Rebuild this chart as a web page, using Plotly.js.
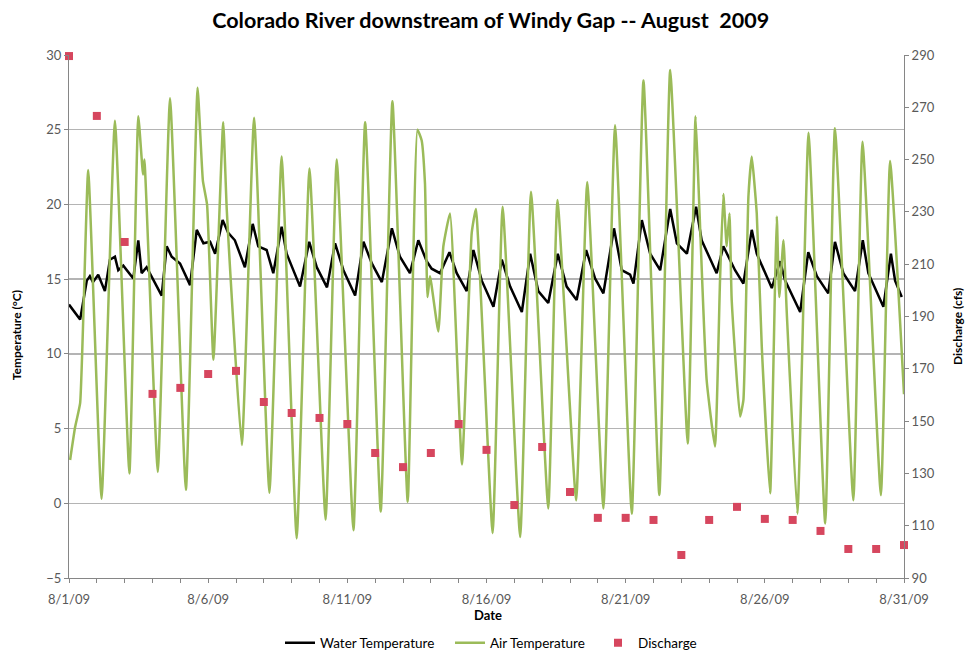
<!DOCTYPE html>
<html>
<head>
<meta charset="utf-8">
<script src="https://cdn.plot.ly/plotly-3.0.1.min.js"></script>
<style>html,body{margin:0;padding:0;background:#fff;}#chart{width:968px;height:651px;}</style>
</head>
<body>
<div id="chart"></div>
<script>
// Day-of-August positions (1.00 = 8/1/09 00:00)
const airDays = [1.04,1.22,1.40,1.69,2.17,2.65,3.17,3.49,3.66,3.71,4.19,4.63,5.20,5.62,5.81,5.96,6.19,6.54,6.67,7.21,7.65,8.20,8.64,9.18,9.64,10.22,10.62,11.22,11.64,12.20,12.62,13.17,13.52,13.67,13.79,13.88,13.97,14.27,14.45,14.69,15.12,15.47,15.62,16.22,16.58,17.21,17.60,18.22,18.55,19.22,19.62,20.20,20.62,21.22,21.64,22.21,22.60,23.23,23.51,23.61,23.91,24.21,24.39,24.51,24.63,24.73,24.81,25.11,25.23,25.41,25.53,25.71,25.89,26.19,26.37,26.43,26.52,26.67,26.79,27.17,27.57,28.17,28.52,29.18,29.51,30.17,30.50,31.00];
const airTemps = [2.9,5.1,6.7,22.3,0.3,25.6,2.0,25.9,22.0,23.0,2.1,27.1,0.9,27.8,21.6,20.0,9.6,25.5,19.6,3.9,25.8,0.7,23.2,-2.35,22.4,-1.1,23.0,-1.8,25.5,-0.55,26.9,0.1,25.0,24.3,21.4,13.8,15.2,11.5,17.2,19.4,2.6,18.1,19.7,-2.0,19.85,-2.25,20.85,-0.35,20.3,0.2,21.5,-0.35,25.3,-0.7,28.3,0.55,29.0,4.0,25.9,21.6,8.25,3.8,14.9,20.7,17.2,19.4,13.6,5.8,6.9,20.5,23.2,19.4,10.5,0.67,14.9,19.2,13.8,17.6,12.7,-0.7,24.8,-1.35,25.1,0.2,24.2,0.55,22.9,7.3];

const waterDays = [1.00,1.40,1.64,1.75,1.86,2.05,2.29,2.47,2.65,2.77,2.95,3.31,3.49,3.61,3.79,4.33,4.51,4.69,4.99,5.35,5.59,5.83,6.07,6.25,6.52,6.72,6.96,7.32,7.60,7.80,8.10,8.34,8.64,8.82,9.30,9.63,9.90,10.27,10.56,10.86,11.28,11.58,11.88,12.24,12.60,12.89,13.25,13.55,13.85,14.03,14.33,14.67,14.93,15.29,15.53,15.83,16.25,16.55,16.85,17.27,17.57,17.86,18.22,18.56,18.88,19.24,19.58,19.90,20.20,20.58,20.86,21.16,21.28,21.58,21.88,22.24,22.60,22.84,23.20,23.53,23.73,24.27,24.51,24.93,25.23,25.53,25.71,26.25,26.55,26.73,27.27,27.56,27.87,28.28,28.52,28.82,29.24,29.52,29.72,30.26,30.53,30.68,30.92];
const waterTemps = [13.3,12.3,14.9,15.2,14.8,15.3,14.2,16.3,16.5,15.6,15.9,15.05,17.6,15.4,15.8,13.9,17.2,16.5,16.05,14.6,18.3,17.4,17.5,16.7,18.95,18.1,17.6,15.8,18.7,17.2,16.95,15.4,18.5,16.7,14.5,17.5,15.8,14.45,17.4,15.6,13.9,17.5,16.05,14.8,18.4,16.5,15.4,17.6,16.2,15.7,15.4,16.8,15.4,14.2,16.95,14.9,13.15,16.3,14.5,12.8,16.7,14.2,13.4,16.7,14.5,13.6,16.95,15.05,14.05,18.4,15.6,15.3,14.7,18.95,16.7,15.6,19.7,17.4,16.7,19.85,17.6,15.4,17.2,15.6,14.7,18.3,16.7,14.4,16.2,14.9,12.8,16.8,15.2,14.05,17.5,15.4,14.2,17.6,15.4,13.15,16.7,14.9,13.8];

const dischargeDays = [1,2,3,4,5,6,7,8,9,10,11,12,13,14,15,16,17,18,19,20,21,22,23,24,25,26,27,28,29,30,31];
const dischargeCfs = [289.6,266.7,218.5,160.4,162.7,168,169.2,157.3,153.1,151.2,148.9,137.8,132.4,137.8,148.9,139,117.9,140.1,122.9,113,113,112.2,98.8,112.2,117.2,112.6,112.2,108,101.1,101.1,102.6];

const tickDays = [1,6,11,16,21,26,31];

function dayToDate(d){
  const dt = new Date(Date.UTC(2009,7,1) + (d-1)*86400000);
  return dt.toISOString().slice(0,16).replace('T',' ');
}

const font = "Lato, 'Open Sans', sans-serif";
const gray = '#595959';
const axisGray = '#868686';

const traces = [
  {x: waterDays.map(dayToDate), y: waterTemps, name: 'Water Temperature', type: 'scatter', mode: 'lines',
   line: {color: '#000000', width: 2.5}, yaxis: 'y', legend: 'legend'},
  {x: airDays.map(dayToDate), y: airTemps, name: 'Air Temperature', type: 'scatter', mode: 'lines',
   line: {color: '#9BBB59', width: 2.5, shape: 'spline', smoothing: 0.4}, yaxis: 'y', legend: 'legend2'},
  {x: dischargeDays.map(dayToDate), y: dischargeCfs, name: 'Discharge', type: 'scatter', mode: 'markers',
   marker: {color: '#D6465E', symbol: 'square', size: 8}, yaxis: 'y2', cliponaxis: false, legend: 'legend3'}
];

function legendAt(px){
  return {orientation: 'h', xref: 'paper', x: (px - 69) / 835, xanchor: 'left', yref: 'container', y: 0.0123, yanchor: 'middle',
          font: {family: font, size: 13.5, color: '#000'}, itemwidth: 30, bgcolor: 'rgba(0,0,0,0)'};
}

const layout = {
  width: 968, height: 651,
  margin: {l: 69, r: 64, t: 55, b: 73, autoexpand: false},
  paper_bgcolor: '#fff', plot_bgcolor: '#fff',
  font: {family: font, color: gray, size: 13},
  title: {text: '<b>Colorado River downstream of Windy Gap -- August  2009</b>', xref: 'paper', x: 0.505, xanchor: 'center',
          yref: 'container', y: 0.969, yanchor: 'middle',
          font: {family: font, size: 21.5, color: '#000'}},
  showlegend: true,
  legend: legendAt(280),
  legend2: legendAt(450),
  legend3: legendAt(598),
  xaxis: {type: 'date', range: [dayToDate(1), dayToDate(31)],
          tickvals: tickDays.map(dayToDate), tickformat: '%-m/%-d/%y',
          showgrid: false, zeroline: false, showline: true, linecolor: axisGray, linewidth: 1,
          ticks: 'outside', ticklen: 4, tickcolor: axisGray, ticklabelstandoff: 5,
          minor: {dtick: 86400000, ticks: 'outside', ticklen: 4, tickcolor: axisGray, showgrid: false},
          tickfont: {size: 13, color: gray, family: font}},
  yaxis: {range: [-5, 30], dtick: 5, showgrid: true, gridcolor: '#b4b4b4', gridwidth: 1.5, zeroline: false,
          showline: true, linecolor: axisGray, ticks: 'outside', ticklen: 4, tickcolor: axisGray,
          tickfont: {size: 13, color: gray, family: font}},
  yaxis2: {range: [90, 290], tick0: 90, dtick: 20, overlaying: 'y', side: 'right', showgrid: false, zeroline: false,
           showline: true, linecolor: axisGray, ticks: 'outside', ticklen: 4, tickcolor: axisGray,
           tickfont: {size: 13, color: gray, family: font}},
  annotations: [
    {text: '<b>Temperature (°C)</b>', xref: 'paper', yref: 'paper', x: -0.063, y: 0.465, textangle: -90,
     showarrow: false, xanchor: 'center', yanchor: 'middle', font: {size: 12, color: '#000', family: font}},
    {text: '<b>Discharge (cfs)</b>', xref: 'paper', yref: 'paper', x: 1.0647, y: 0.48, textangle: -90,
     showarrow: false, xanchor: 'center', yanchor: 'middle', font: {size: 12, color: '#000', family: font}},
    {text: '<b>Date</b>', xref: 'paper', yref: 'paper', x: 0.502, y: -0.07,
     showarrow: false, xanchor: 'center', yanchor: 'middle', font: {size: 13, color: '#000', family: font}}
  ]
};

Plotly.newPlot('chart', traces, layout, {displayModeBar: false, staticPlot: true});
</script>
</body>
</html>
